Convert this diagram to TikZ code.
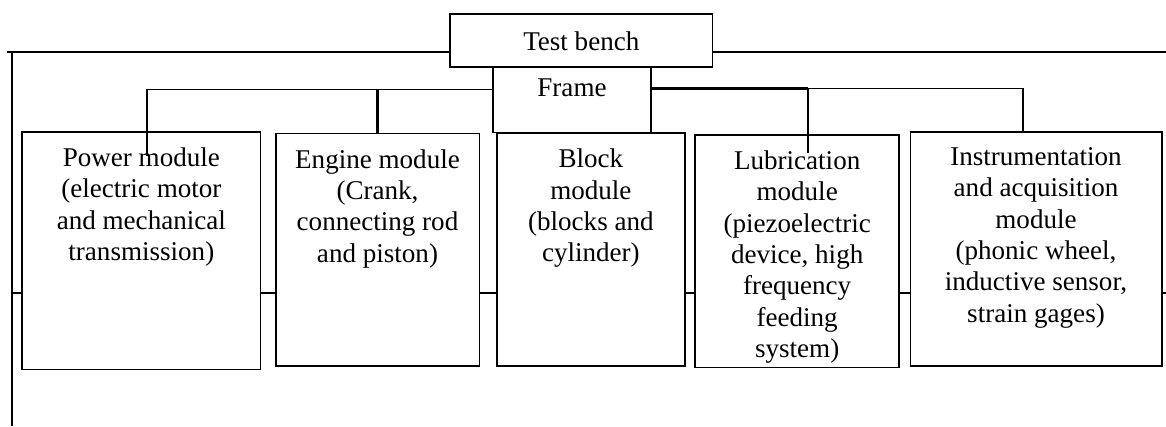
\documentclass[tikz,border=0pt]{standalone}
\usepackage{fontspec}
\setmainfont{Liberation Serif}
\begin{document}
\begin{tikzpicture}[x=0.75pt,y=-0.75pt,
  box/.style={draw, rectangle, inner sep=0pt, line width=1.2pt},
  txt/.style={anchor=north, inner sep=0pt, align=center, font=\fontsize{20.3}{23.5}\selectfont},
  wire/.style={line width=1.2pt},
  thinwire/.style={line width=1pt},
  thickwire/.style={line width=2.2pt}]
\useasboundingbox (0,0) rectangle (1166,426);
% boxes
\node[box, minimum width=197pt, minimum height=39.75pt] (tb) at (581.3,40.5) {};
\node[box, minimum width=118.5pt, minimum height=49.1pt] (frame) at (571.7,99.75) {};
\node[box, minimum width=179pt, minimum height=178.2pt] (power) at (141.35,250.5) {};
\node[box, minimum width=152.7pt, minimum height=174.5pt] (engine) at (377.5,249.65) {};
\node[box, minimum width=141.2pt, minimum height=174.75pt] (block) at (590.85,249.5) {};
\node[box, minimum width=153.2pt, minimum height=174.45pt] (lub) at (797.15,251) {};
\node[box, minimum width=188.55pt, minimum height=175.7pt] (inst) at (1036,248.85) {};
% texts
\node[txt, anchor=base] (tbt) at (581.3,50) {Test bench};
\node[txt, anchor=base] (frt) at (572,96.7) {Frame};
\node[txt] (powt) at ([yshift=-12.4pt]power.north) {Power module\\(electric motor\\and mechanical\\transmission)};
\node[txt] (engt) at ([yshift=-12.4pt]engine.north) {Engine module\\(Crank,\\connecting rod\\and piston)};
\node[txt] (blkt) at ([yshift=-12.4pt]block.north) {Block\\module\\(blocks and\\cylinder)};
\node[txt] (lubt) at ([yshift=-12.4pt]lub.north) {Lubrication\\module\\(piezoelectric\\device, high\\frequency\\feeding\\system)};
\node[txt] (inst-t) at ([yshift=-12.4pt]inst.north) {Instrumentation\\and acquisition\\module\\(phonic wheel,\\inductive sensor,\\strain gages)};
% test bench line
\coordinate (ltop) at (7,52);
\coordinate (rtop) at (1166,52);
\draw[thinwire] (ltop) -- (ltop -| tb.west);
\draw[thinwire] (tb.east |- rtop) -- (rtop);
\coordinate (lv1) at (12,51);
\coordinate (lv2) at (12,426);
\draw[wire] (lv1) -- (lv2);
% middle line
\coordinate (m0) at (12,292.7);
\coordinate (m1) at (1166,292.7);
\draw[wire] (m0) -- (m0 -| power.west);
\draw[wire] (power.east |- m0) -- (m0 -| engine.west);
\draw[wire] (engine.east |- m0) -- (m0 -| block.west);
\draw[wire] (block.east |- m0) -- (m0 -| lub.west);
\draw[wire] (lub.east |- m0) -- (m0 -| inst.west);
\draw[wire] (inst.east |- m0) -- (m1);
% frame connectors
\coordinate (fl) at (147,89.5);
\coordinate (pw) at (147,156);
\draw[wire] (frame.west |- fl) -- (fl) -- (pw);
\coordinate (ej) at (377.7,89.5);
\draw[thickwire] (ej) -- (ej |- engine.north);
\coordinate (fr) at (807.7,88.5);
\coordinate (lb) at (807.7,153);
\coordinate (ij) at (1022.7,88.5);
\draw[thickwire] (frame.east |- fr) -- (fr);
\draw[wire] (fr) -- (lb);
\draw[wire] (fr) -- (ij) -- (ij |- inst.north);
\end{tikzpicture}
\end{document}
